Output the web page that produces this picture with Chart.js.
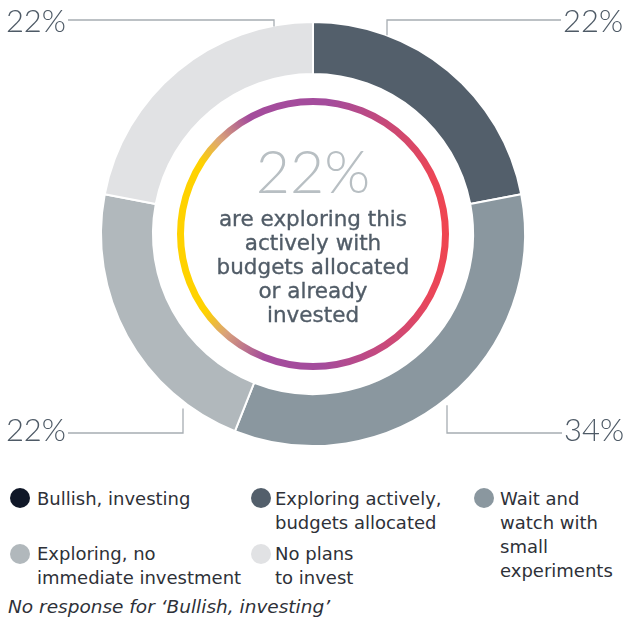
<!DOCTYPE html>
<html>
<head>
<meta charset="utf-8">
<script src="https://cdn.jsdelivr.net/npm/chart.js@4/dist/chart.umd.min.js"></script>
<style>
  html, body { margin: 0; padding: 0; background: #fff; }
  #wrap { position: relative; width: 624px; height: 623px; overflow: hidden; }
  #chartBox { position: absolute; left: 0; top: 0; width: 624px; height: 470px; }
  #center { position: absolute; left: 213px; width: 200px; top: 0; text-align: center; pointer-events: none; }
  #bigPct { position: absolute; left: -20px; width: 240px; top: 141px; font: 300 59px Lato, "Open Sans", sans-serif; line-height: 59px; color: #b8bfc3; }
  #centerText { position: absolute; left: -20px; width: 240px; top: 207px; font: 21.5px "DejaVu Sans", sans-serif; line-height: 24px; color: #515c67; -webkit-text-stroke: 0.35px #515c67; }
  .item { position: absolute; font: 18px "DejaVu Sans", sans-serif; line-height: 24px; color: #2e3138; }
  .dot { position: absolute; width: 20px; height: 20px; border-radius: 50%; }
  #note { position: absolute; left: 8px; top: 595px; font: italic 18.5px "DejaVu Sans", sans-serif; line-height: 24px; color: #2e3138; }
</style>
</head>
<body>
<div id="wrap">
  <div id="chartBox"><canvas id="canvas"></canvas></div>
  <div id="center">
    <div id="bigPct"></div>
    <div id="centerText"></div>
  </div>
  <div id="legend"></div>
  <div id="note"></div>
</div>
<script>
// survey answers, clockwise from 12 o'clock
const categories = [
  "Bullish, investing",
  "Exploring actively, budgets allocated",
  "Wait and watch with small experiments",
  "Exploring, no immediate investment",
  "No plans to invest"
];
const legendLines = [
  ["Bullish, investing"],
  ["Exploring actively,", "budgets allocated"],
  ["Wait and", "watch with", "small", "experiments"],
  ["Exploring, no", "immediate investment"],
  ["No plans", "to invest"]
];
const shares = [0, 22, 34, 22, 22];
const sliceColors = ["#101828", "#535f6b", "#8a979f", "#b1b8bc", "#e1e2e4"];
const headline = 22;
const headlineLines = ["are exploring this", "actively with", "budgets allocated", "or already", "invested"];
const footnote = "No response for \u2018Bullish, investing\u2019";

// callout placement: elbow offset from centre, line y, label anchor
const callouts = [
  null,
  { dx: 74, lineY: 20, textX: 563, baseY: 32, align: "left", gap: 0 },
  { dx: 134, lineY: 433, textX: 564, baseY: 441, align: "left", gap: 7 },
  { dx: -130, lineY: 433, textX: 66, baseY: 441, align: "right", gap: 7 },
  { dx: -39, lineY: 20, textX: 66, baseY: 32, align: "right", gap: 1 }
];

// legend slots: dot centre + text left/top
const legendSlots = [
  { dotX: 20, dotY: 498, textX: 37, top: 487 },
  { dotX: 261, dotY: 498, textX: 275, top: 487 },
  { dotX: 484, dotY: 498, textX: 500, top: 487 },
  { dotX: 20, dotY: 554, textX: 37, top: 542 },
  { dotX: 261, dotY: 554, textX: 275, top: 542 }
];

document.getElementById("bigPct").textContent = headline + "%";
document.getElementById("centerText").innerHTML = headlineLines.join("<br>");
document.getElementById("note").textContent = footnote;

const legend = document.getElementById("legend");
categories.forEach((c, i) => {
  const s = legendSlots[i];
  const dot = document.createElement("div");
  dot.className = "dot";
  dot.style.left = (s.dotX - 10) + "px";
  dot.style.top = (s.dotY - 10) + "px";
  dot.style.background = sliceColors[i];
  legend.appendChild(dot);
  const t = document.createElement("div");
  t.className = "item";
  t.style.left = s.textX + "px";
  t.style.top = s.top + "px";
  t.innerHTML = legendLines[i].join("<br>");
  legend.appendChild(t);
});

const ringPlugin = {
  id: "ringAndCallouts",
  afterDraw(chart) {
    const ctx = chart.ctx;
    const arc = chart.getDatasetMeta(0).data[1];
    const cx = arc.x, cy = arc.y, R = arc.outerRadius;

    // inner gradient ring
    const g = ctx.createConicGradient(0, cx, cy);
    const stops = [
      [0.00, "#ef4550"], [0.08, "#e9465a"], [0.17, "#c44a80"], [0.24, "#a44c9c"],
      [0.31, "#a44c9c"], [0.365, "#d9a27a"], [0.40, "#ffd200"], [0.59, "#ffd200"],
      [0.625, "#dca676"], [0.67, "#a44c9c"], [0.77, "#a44c9c"], [0.86, "#cf4870"],
      [0.93, "#ec4656"], [1.00, "#ef4550"]
    ];
    stops.forEach(s => g.addColorStop(s[0], s[1]));
    ctx.save();
    ctx.beginPath();
    ctx.arc(cx, cy, R * 0.625, 0, Math.PI * 2);
    ctx.strokeStyle = g;
    ctx.lineWidth = 7;
    ctx.stroke();
    ctx.restore();

    // callouts
    ctx.save();
    ctx.strokeStyle = "#a7adb2";
    ctx.lineWidth = 1.3;
    ctx.fillStyle = "#4e5a66";
    ctx.font = "300 31px Lato, 'Open Sans', sans-serif";
    callouts.forEach((c, i) => {
      if (!c || !shares[i]) return;
      const ex = cx + c.dx;
      const dy = Math.sqrt(R * R - c.dx * c.dx);
      const edgeY = c.lineY < cy ? cy - dy + c.gap : cy + dy + c.gap;
      const lineEnd = c.align === "left" ? c.textX - 2 : c.textX + 2;
      ctx.beginPath();
      ctx.moveTo(ex, edgeY);
      ctx.lineTo(ex, c.lineY);
      ctx.lineTo(lineEnd, c.lineY);
      ctx.stroke();
      ctx.textAlign = c.align;
      ctx.textBaseline = "alphabetic";
      ctx.fillText(shares[i] + "%", c.textX, c.baseY);
    });
    ctx.restore();
  }
};

new Chart(document.getElementById("canvas"), {
  type: "doughnut",
  data: {
    labels: categories,
    datasets: [{
      data: shares,
      backgroundColor: sliceColors,
      borderColor: "#ffffff",
      borderWidth: 2
    }]
  },
  options: {
    responsive: true,
    maintainAspectRatio: false,
    animation: false,
    cutout: "75.5%",
    layout: { padding: { top: 21, bottom: 23, left: 2, right: 0 } },
    plugins: { legend: { display: false }, tooltip: { enabled: false } }
  },
  plugins: [ringPlugin]
});
</script>
</body>
</html>
